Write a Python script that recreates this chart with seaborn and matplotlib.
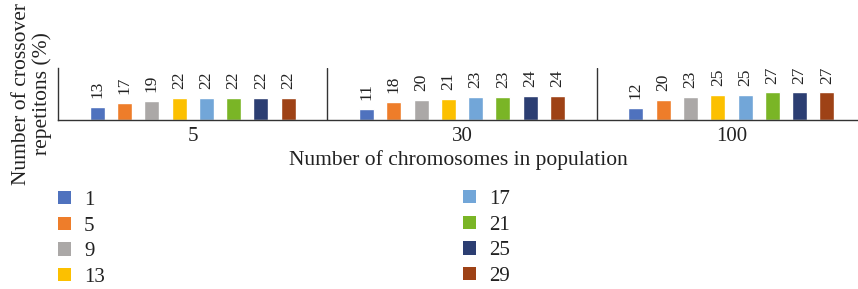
import matplotlib
matplotlib.use('Agg')
import matplotlib.pyplot as plt
import seaborn as sns
import pandas as pd
from matplotlib.patches import Patch

# data
populations = ['5', '30', '100']
repetitions = ['1', '5', '9', '13', '17', '21', '25', '29']
vals_pop5 = [13, 17, 19, 22, 22, 22, 22, 22]
vals_pop30 = [11, 18, 20, 21, 23, 23, 24, 24]
vals_pop100 = [12, 20, 23, 25, 25, 27, 27, 27]
colors = ['#4F72BE', '#EE7D2A', '#ABA8A7', '#FCC000',
          '#72A6D8', '#7AB526', '#2C3E72', '#9E4216']

rows = []
for pop, vals in zip(populations, [vals_pop5, vals_pop30, vals_pop100]):
    for rep, v in zip(repetitions, vals):
        rows.append({'pop': pop, 'rep': rep, 'value': v})
df = pd.DataFrame(rows)

sns.set_theme(style='white')
plt.rcParams['font.family'] = ['Liberation Serif', 'DejaVu Serif']
text_col = '#222222'

fig = plt.figure(figsize=(8.58, 2.89), dpi=100)
ax = fig.add_axes([58 / 858, 1 - 120 / 289, 800 / 858, 52 / 289])

sns.barplot(data=df, x='pop', y='value', hue='rep', order=populations,
            hue_order=repetitions, palette=colors, width=0.81, gap=0.45,
            legend=False, ax=ax, saturation=1)

for cont in ax.containers:
    ax.bar_label(cont, rotation=90, padding=6, fontsize=12.5, color=text_col)

ax.set_ylim(0, 51)
ax.set_xlim(-0.5, 2.47)
ax.set_yticks([])
ax.tick_params(axis='x', length=0, labelsize=15, colors=text_col, pad=5)
for s in ['top', 'right']:
    ax.spines[s].set_visible(False)
for s in ['left', 'bottom']:
    ax.spines[s].set_color('#333333')
    ax.spines[s].set_linewidth(1)
for xv in [0.5, 1.5]:
    ax.axvline(xv, color='#333333', lw=1)

ax.set_xlabel('Number of chromosomes in population', fontsize=15.5,
              color=text_col, labelpad=3)
ax.set_ylabel('Number of crossover\nrepetitons (%)', fontsize=15.5,
              color=text_col, labelpad=4, linespacing=1.1)

handles = [Patch(facecolor=c, edgecolor='none') for c in colors]
leg_kw = dict(frameon=False, fontsize=15, handlelength=0.6, handleheight=0.6,
              handletextpad=0.65, labelspacing=0.32, borderpad=0,
              borderaxespad=0, loc='upper left', labelcolor=text_col)
fig.legend(handles[:4], repetitions[:4], bbox_to_anchor=(58 / 858, 1 - 191 / 289), **leg_kw)
fig.legend(handles[4:], repetitions[4:], bbox_to_anchor=(463 / 858, 1 - 190 / 289), **leg_kw)

fig.savefig('out.png', dpi=100)
